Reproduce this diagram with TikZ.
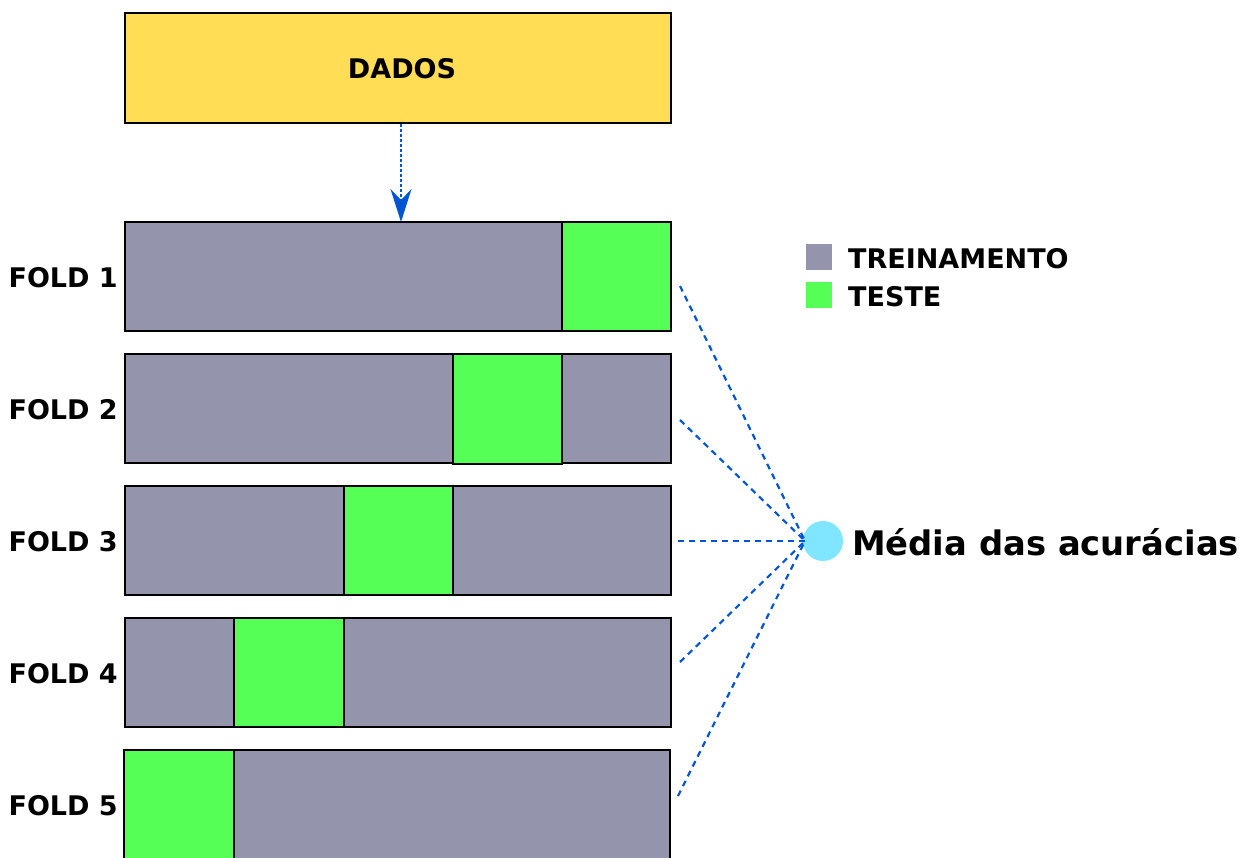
\documentclass[tikz,border=0pt]{standalone}
\usepackage{fontspec}
\setmainfont{DejaVu Sans}
\usetikzlibrary{arrows.meta}
\definecolor{dadosY}{HTML}{FFDD55}
\definecolor{trainG}{HTML}{9494AC}
\definecolor{testG}{HTML}{55FF55}
\definecolor{linkB}{HTML}{0055D4}
\definecolor{hubC}{HTML}{80E5FF}
\tikzset{
  bar/.style={draw=black, line width=2pt, fill=trainG},
  testpart/.style={draw=black, line width=2pt, fill=testG},
  foldlabel/.style={anchor=base east, inner sep=0pt, font=\fontsize{27}{31}\selectfont\bfseries},
  legendtext/.style={anchor=base west, inner sep=0pt, font=\fontsize{27}{31}\selectfont\bfseries},
  link/.style={draw=linkB, line width=2.2pt, dash pattern=on 6pt off 5pt},
}
\begin{document}
\begin{tikzpicture}[x=1pt, y=-1pt]
\clip (0,0) rectangle (1245,857);
\useasboundingbox (0,0) rectangle (1245,857);
% data block
\draw[draw=black, line width=2pt, fill=dadosY] (125,13) rectangle (671,123);
\node[anchor=base, inner sep=0pt, font=\fontsize{27}{31}\selectfont\bfseries] (dados) at (402,78.5) {DADOS};
\coordinate (dadosS) at (401,124);
\coordinate (fold1N) at (401,222);
\draw[draw=linkB, line width=2.2pt, dash pattern=on 2.5pt off 2.5pt,
  -{Stealth[length=33pt, width=21pt, inset=11pt, fill=linkB]}] (dadosS) -- (fold1N);
% folds: training bars with the test slice
\draw[bar] (125,222) rectangle (671,331);
\draw[testpart] (562,222) rectangle (671,331);
\draw[bar] (125,354) rectangle (671,463);
\draw[testpart] (453,354) rectangle (562,464);
\draw[bar] (125,486) rectangle (671,595);
\draw[testpart] (344,486) rectangle (453,595);
\draw[bar] (125,618) rectangle (671,727);
\draw[testpart] (234,618) rectangle (344,727);
\draw[bar] (124,750) rectangle (670,870);
\draw[testpart] (124,750) rectangle (234,870);
% fold labels
\node[foldlabel] (l1) at (118,287) {FOLD 1};
\node[foldlabel] (l2) at (118,419) {FOLD 2};
\node[foldlabel] (l3) at (118,551) {FOLD 3};
\node[foldlabel] (l4) at (118,683) {FOLD 4};
\node[foldlabel] (l5) at (118,815) {FOLD 5};
% legend
\fill[trainG] (806,244) rectangle (832,270);
\fill[testG] (806,282) rectangle (832,308);
\node[legendtext] (ltrain) at (848,268) {TREINAMENTO};
\node[legendtext] (ltest) at (848,306) {TESTE};
% average of the accuracies
\node[circle, fill=hubC, minimum size=40pt, inner sep=0pt] (hub) at (823,541) {};
\node[anchor=base west, inner sep=0pt, font=\fontsize{33.8}{39}\selectfont\bfseries] (media) at (852,555.5) {Média das acurácias};
\coordinate (hubW) at (805,541);
\coordinate (s1) at (680,286);
\coordinate (s2) at (680,420);
\coordinate (s3) at (678,541);
\coordinate (s4) at (680,662);
\coordinate (s5) at (678,796);
\foreach \s in {s1,s2,s3,s4,s5} \draw[link] (\s) -- (hubW);
\end{tikzpicture}
\end{document}
